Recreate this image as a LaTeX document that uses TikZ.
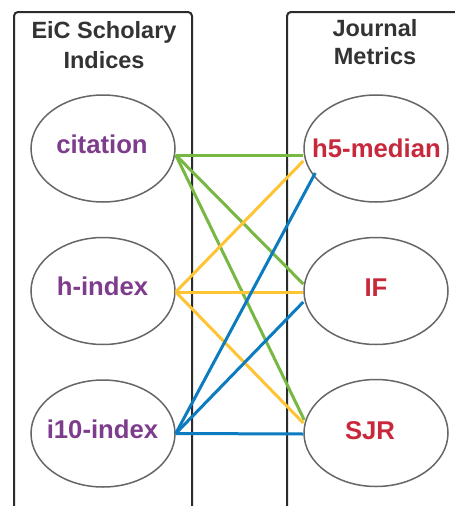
\documentclass[tikz,border=0pt]{standalone}
\usepackage{fontspec}
\setmainfont{Liberation Sans}
\usetikzlibrary{shapes.geometric}
\definecolor{boxc}{HTML}{2B2B2B}
\definecolor{ellc}{HTML}{666666}
\definecolor{titc}{HTML}{333333}
\definecolor{purp}{HTML}{7D3C8C}
\definecolor{redc}{HTML}{C8283C}
\definecolor{grn}{HTML}{77B843}
\definecolor{ylw}{HTML}{FFC434}
\definecolor{blu}{HTML}{0C7BBF}
\tikzset{
  x=1pt, y=1pt,
  panel/.style={draw=boxc, line width=2pt, rounded corners=4pt},
  ell/.style={ellipse, draw=ellc, line width=1.5pt, fill=white, minimum width=144pt, minimum height=107pt, inner sep=0pt},
  lbl/.style={font=\fontsize{25.7}{30}\selectfont\bfseries, anchor=base, inner sep=0pt},
  lft/.style={lbl, text=purp},
  rgt/.style={lbl, text=redc},
  title/.style={font=\fontsize{23.5}{28}\selectfont\bfseries, text=titc, anchor=base, inner sep=0pt},
  conn/.style={line width=3pt},
}
\begin{document}
\begin{tikzpicture}
\useasboundingbox (0,0) rectangle (455,-506);
\begin{scope}
\clip (0,0) rectangle (455,-506);
\draw[panel] (14,-12) rectangle (192,-530);
\draw[panel] (287,-12) rectangle (475,-530);
\end{scope}
\node[title] (t1) at (104,-38) {EiC Scholary};
\node[title] (t2) at (104,-68) {Indices};
\node[title] (t3) at (375,-36) {Journal};
\node[title] (t4) at (375,-64) {Metrics};

\node[ell] (cit) at (103,-148.5) {};
\node[ell] (hix) at (103,-291) {};
\node[ell] (iix) at (103,-433.5) {};
\node[ell] (h5m) at (376,-148.5) {};
\node[ell] (jif) at (376,-291) {};
\node[ell] (sjr) at (376,-433) {};

\node[lft] (citL) at (102,-153) {citation};
\node[lft] (hixL) at (102.5,-295) {h-index};
\node[lft] (iixL) at (102.5,-438) {i10-index};
\node[rgt] (h5mL) at (376.5,-157) {h5-median};
\node[rgt] (jifL) at (376,-296) {IF};
\node[rgt] (sjrL) at (370,-439) {SJR};

% green from citation
\draw[conn, grn] ([yshift=-6.5pt]cit.east) -- ([yshift=-6.5pt]h5m.west);
\draw[conn, grn] ([yshift=-6.5pt]cit.east) -- ([yshift=7pt]jif.west);
\draw[conn, grn] ([yshift=-6.5pt]cit.east) -- ([xshift=1pt,yshift=13pt]sjr.west);
% yellow from h-index
\draw[conn, ylw] ([yshift=-1pt]hix.east) -- ([yshift=-12.5pt]h5m.west);
\draw[conn, ylw] ([yshift=-1pt]hix.east) -- ([yshift=-1pt]jif.west);
\draw[conn, ylw] ([yshift=-1pt]hix.east) -- ([yshift=10pt]sjr.west);
% blue from i10-index
\draw[conn, blu] (iix.east) -- ([xshift=12pt,yshift=-24.5pt]h5m.west);
\draw[conn, blu] (iix.east) -- ([yshift=-11pt]jif.west);
\draw[conn, blu] (iix.east) -- ([yshift=-1pt]sjr.west);
\end{tikzpicture}
\end{document}
